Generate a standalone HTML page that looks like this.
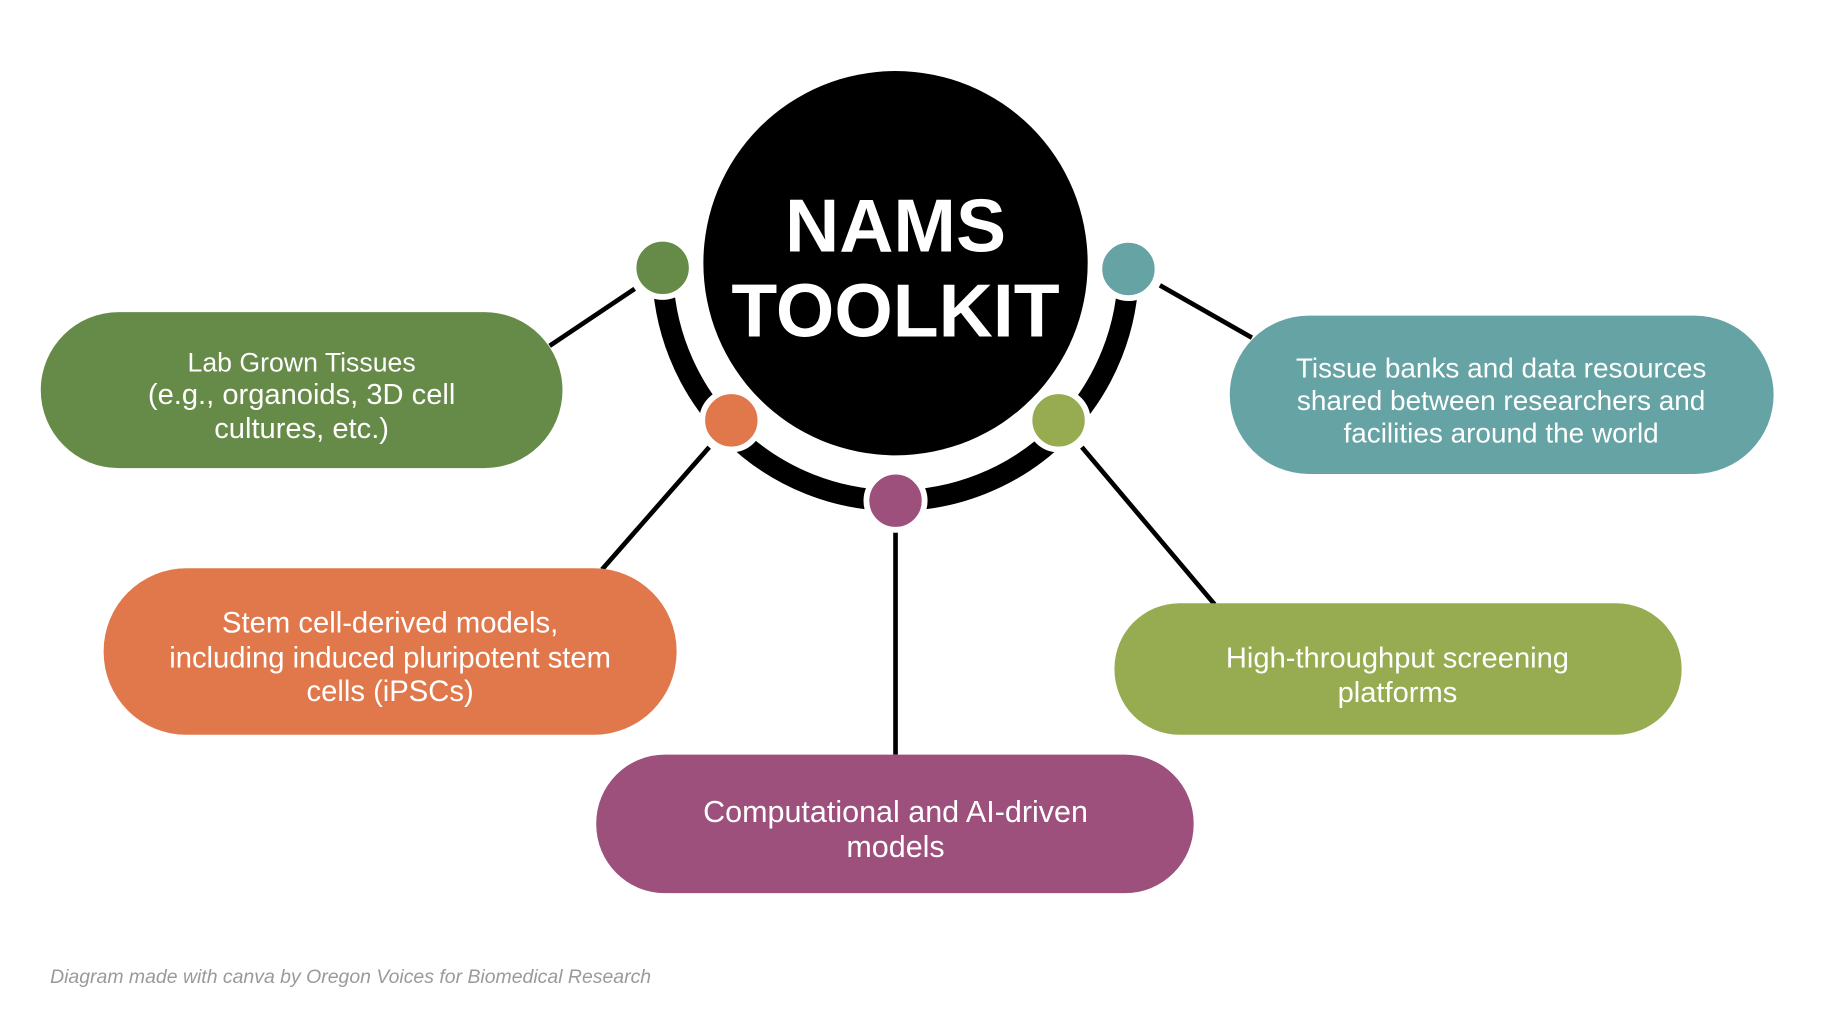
<!DOCTYPE html>
<html><head><style>
html,body{margin:0;padding:0;background:#fff;}
svg{display:block;}
text{font-family:"Liberation Sans",Arial,sans-serif;}
</style></head><body>
<svg width="1826" height="1030" viewBox="0 0 1568 884.5" preserveAspectRatio="none" xmlns="http://www.w3.org/2000/svg">
<rect width="1568" height="884.5" fill="#fff"/>
<g stroke="#000" stroke-width="4">
<line x1="545" y1="248" x2="472" y2="297"/>
<line x1="609" y1="384" x2="517" y2="489"/>
<line x1="769" y1="455" x2="769" y2="648"/>
<line x1="929" y1="384" x2="1043" y2="519"/>
<line x1="996" y1="245" x2="1075" y2="290"/>
</g>
<path d="M569 230 A200 200 0 0 0 969 230" fill="none" stroke="#000" stroke-width="18"/>
<circle cx="769" cy="226" r="165" fill="#000"/>
<text x="769" y="216" text-anchor="middle" font-size="64.5" font-weight="bold" fill="#fff">NAMS</text>
<text x="769" y="289" text-anchor="middle" font-size="64.5" font-weight="bold" fill="#fff">TOOLKIT</text>
<g stroke="#fff" stroke-width="5">
<circle cx="569" cy="230" r="25" fill="#668a47"/>
<circle cx="628" cy="361" r="25" fill="#e0784b"/>
<circle cx="769" cy="430" r="25" fill="#9c507b"/>
<circle cx="909" cy="361" r="25" fill="#97ab50"/>
<circle cx="969" cy="231" r="25" fill="#65a3a4"/>
</g>
<rect x="35" y="268" width="448" height="134" rx="67" fill="#668a47"/>
<rect x="89" y="488" width="492" height="143" rx="71" fill="#e0784b"/>
<rect x="512" y="648" width="513" height="119" rx="59" fill="#9c507b"/>
<rect x="957" y="518" width="487" height="113" rx="56" fill="#97ab50"/>
<rect x="1056" y="271" width="467" height="136" rx="68" fill="#65a3a4"/>
<g fill="#fff" text-anchor="middle">
<text x="259" y="319" font-size="22.9">Lab Grown Tissues</text>
<text x="259" y="347" font-size="25">(e.g., organoids, 3D cell</text>
<text x="259" y="376" font-size="25">cultures, etc.)</text>
<text x="335" y="543" font-size="25.1">Stem cell-derived models,</text>
<text x="335" y="573" font-size="25.1">including induced pluripotent stem</text>
<text x="335" y="602" font-size="25.1">cells (iPSCs)</text>
<text x="769" y="706" font-size="26.2">Computational and AI-driven</text>
<text x="769" y="736" font-size="26.2">models</text>
<text x="1200" y="573" font-size="25">High-throughput screening</text>
<text x="1200" y="603" font-size="25">platforms</text>
<text x="1289" y="324" font-size="24">Tissue banks and data resources</text>
<text x="1289" y="352" font-size="24">shared between researchers and</text>
<text x="1289" y="380" font-size="24">facilities around the world</text>
</g>
<text x="43" y="844" font-size="16.7" font-style="italic" fill="#9a9a9a">Diagram made with canva by Oregon Voices for Biomedical Research</text>
</svg>
</body></html>
